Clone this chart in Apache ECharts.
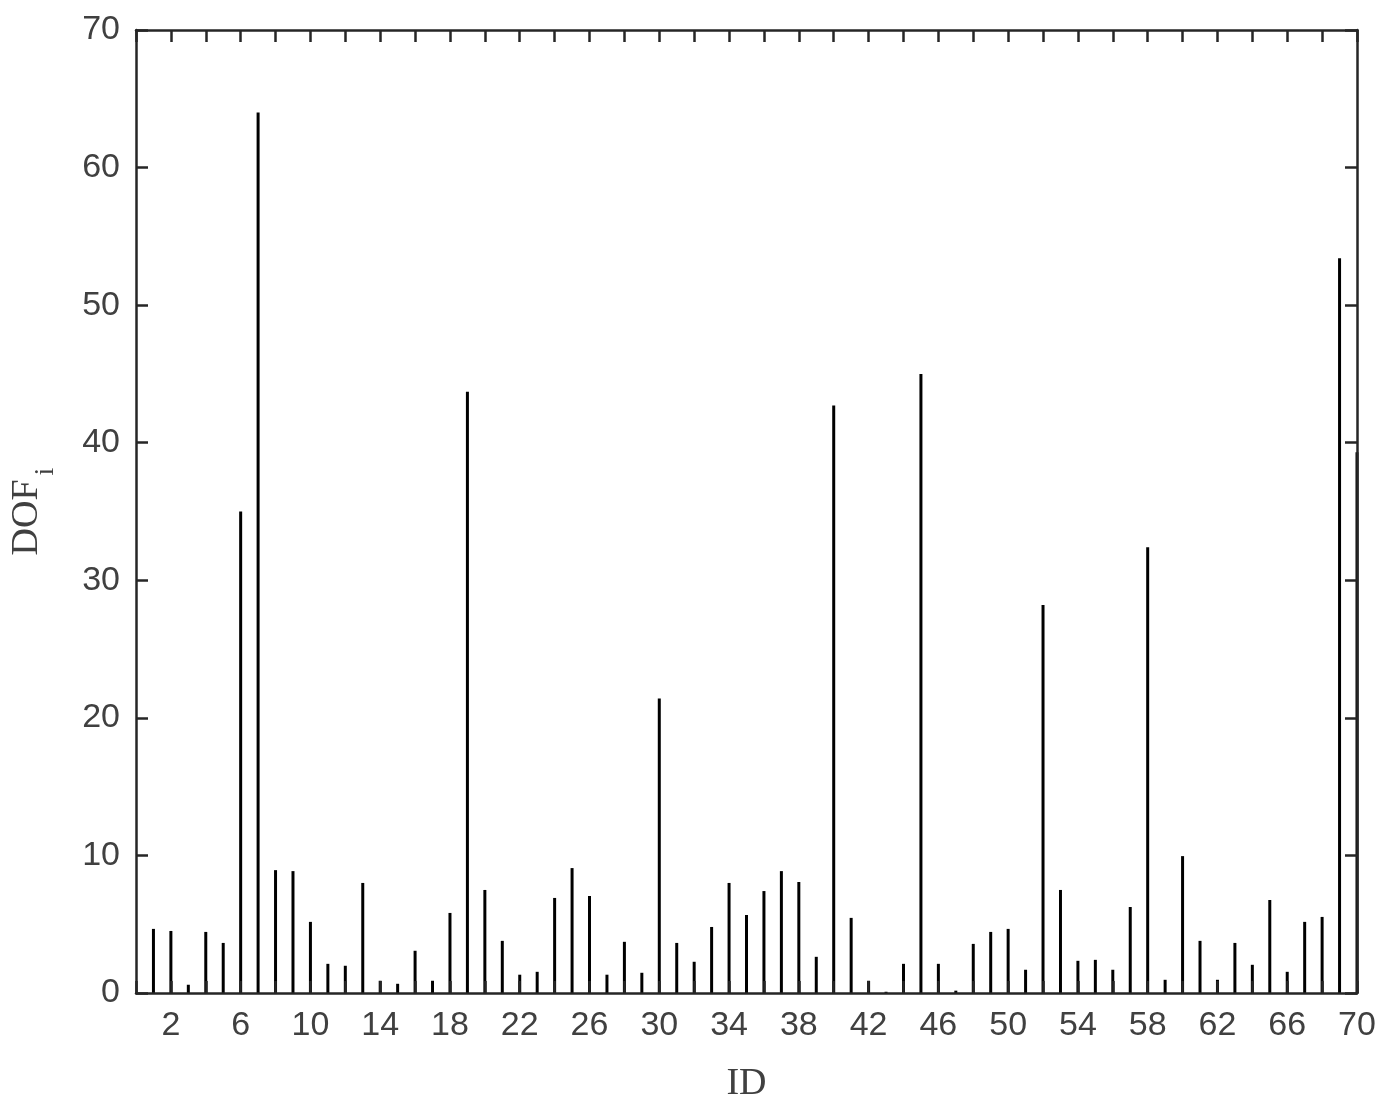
<!DOCTYPE html>
<html>
<head>
<meta charset="utf-8">
<title>DOF</title>
<script src="https://cdn.jsdelivr.net/npm/echarts@6/dist/echarts.min.js"></script>
<style>
    html, body { margin: 0; padding: 0; background: #fff; }
    #ecDof { width: 1391px; height: 1108px; }
</style>
</head>
<body>
<div id="ecDof"></div>
<script>
// ID 1..70
var ids = [];
for (var i = 1; i <= 70; i++) { ids.push(i); }
var dofValues = [4.66, 4.51, 0.60, 4.44, 3.64, 35.0, 64.0, 8.93, 8.86, 5.17,
    2.12, 1.98, 8.0, 0.89, 0.67, 3.07, 0.89, 5.82, 43.7, 7.49,
    3.79, 1.33, 1.54, 6.91, 9.08, 7.05, 1.33, 3.72, 1.47, 21.4,
    3.64, 2.27, 4.8, 8.0, 5.67, 7.41, 8.86, 8.07, 2.63, 42.7,
    5.46, 0.89, 0.09, 2.12, 45.0, 2.12, 0.17, 3.57, 4.44, 4.66,
    1.69, 28.2, 7.49, 2.34, 2.41, 1.69, 6.25, 32.4, 0.96, 9.95,
    3.79, 0.96, 3.64, 2.05, 6.76, 1.54, 5.17, 5.53, 53.4, 39.3];
var xTicks = [2, 6, 10, 14, 18, 22, 26, 30, 34, 38, 42, 46, 50, 54, 58, 62, 66, 70];
var yTicks = [0, 10, 20, 30, 40, 50, 60, 70];

var axisColor = '#262626';
var labelFont = {
    fontFamily: 'Liberation Sans',
    fontSize: 34,
    color: '#404040'
};
var lineOpt = { show: true, onZero: false, lineStyle: { color: axisColor, width: 2.5 } };
var tickOpt = { show: true, inside: true, length: 12, lineStyle: { color: axisColor, width: 2.5 } };

var barData = ids.map(function (id, k) {
    return [id, dofValues[k]];
});

getechart("ecDof", {
    animation: false,
    grid: {
        left: 136,
        right: 34,
        top: 30,
        bottom: 113
    },
    xAxis: [
        {
            type: 'value',
            position: 'bottom',
            min: 0,
            max: 70,
            interval: 2,
            z: 3,
            name: 'ID',
            nameLocation: 'middle',
            nameGap: 72,
            nameTextStyle: {
                fontFamily: 'Liberation Serif',
                fontSize: 38,
                color: '#404040'
            },
            splitLine: { show: false },
            axisLine: lineOpt,
            axisTick: tickOpt,
            axisLabel: Object.assign({
                margin: 16,
                formatter: function (v) {
                    return xTicks.indexOf(v) >= 0 ? String(v) : '';
                }
            }, labelFont)
        },
        {
            type: 'value',
            position: 'top',
            min: 0,
            max: 70,
            interval: 2,
            z: 3,
            splitLine: { show: false },
            axisLine: lineOpt,
            axisTick: tickOpt,
            axisLabel: { show: false }
        }
    ],
    yAxis: [
        {
            type: 'value',
            position: 'left',
            min: 0,
            max: 70,
            interval: 10,
            z: 3,
            name: '{m|DOF}{s|i}',
            nameLocation: 'middle',
            nameGap: 76,
            nameTextStyle: {
                rich: {
                    m: {
                        fontFamily: 'Liberation Serif',
                        fontSize: 38,
                        color: '#404040',
                        verticalAlign: 'top'
                    },
                    s: {
                        fontFamily: 'Liberation Serif',
                        fontSize: 28,
                        color: '#404040',
                        verticalAlign: 'top',
                        padding: [24, 0, 0, 4]
                    }
                }
            },
            splitLine: { show: false },
            axisLine: lineOpt,
            axisTick: tickOpt,
            axisLabel: Object.assign({
                margin: 16,
                formatter: function (v) {
                    return yTicks.indexOf(v) >= 0 ? String(v) : '';
                }
            }, labelFont)
        },
        {
            type: 'value',
            position: 'right',
            min: 0,
            max: 70,
            interval: 10,
            z: 3,
            splitLine: { show: false },
            axisLine: lineOpt,
            axisTick: tickOpt,
            axisLabel: { show: false }
        }
    ],
    series: [
        {
            name: 'DOF',
            type: 'bar',
            xAxisIndex: 0,
            yAxisIndex: 0,
            barWidth: 3,
            clip: false,
            itemStyle: { color: '#000' },
            data: barData
        }
    ]
});

function getechart(idName, idOption) {
    var chart = echarts.init(document.getElementById(idName));
    chart.setOption(idOption);
    window.addEventListener('resize', function () {
        chart.resize();
    });
}
</script>
</body>
</html>
